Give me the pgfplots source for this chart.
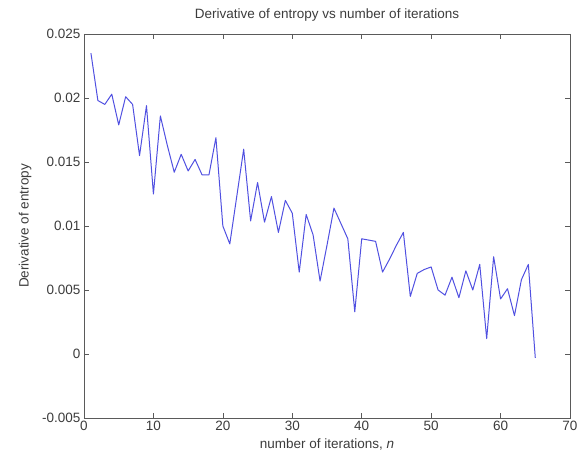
\documentclass[border=0pt]{standalone}
\usepackage{fontspec}
\setmainfont{Liberation Sans}
\usepackage{pgfplots}
\pgfplotsset{compat=1.18}
\definecolor{lineblue}{RGB}{80,80,225}
\definecolor{axgray}{RGB}{90,90,90}
\definecolor{txtgray}{RGB}{60,60,60}
\begin{document}
\begin{tikzpicture}[x=1pt,y=1pt]
\useasboundingbox (-84,-46) rectangle (501,418);
\begin{axis}[
  at={(0,0)}, anchor=south west,
  scale only axis, width=486pt, height=384pt,
  xmin=0, xmax=70, ymin=-0.005, ymax=0.025,
  xtick={0,10,...,70},
  ytick={-0.005,0,0.005,0.01,0.015,0.02,0.025},
  yticklabels={-0.005,0,0.005,0.01,0.015,0.02,0.025},
  xticklabels={0,10,20,30,40,50,60,70},
  scaled y ticks=false,
  tick align=inside,
  major tick length=5pt,
  tick style={axgray, line width=0.6pt},
  axis line style={axgray, line width=0.8pt},
  every tick label/.style={font=\fontsize{13.5}{15}\selectfont, text=txtgray},
  title={Derivative of entropy vs number of iterations},
  title style={font=\fontsize{13.5}{15}\selectfont, text=txtgray, yshift=3pt},
  xlabel={number of iterations, \textit{n}},
  ylabel={Derivative of entropy},
  label style={font=\fontsize{13.5}{15}\selectfont, text=txtgray},
  xlabel style={yshift=-1pt},
  ylabel style={yshift=4pt},
  clip=false,
]
\addplot[lineblue, line width=1pt, mark=none, line join=round] coordinates {
(1,0.0235) (2,0.0198) (3,0.0195) (4,0.0203) (5,0.0179) (6,0.0201) (7,0.0195) (8,0.0155) (9,0.0194) (10,0.0125)
(11,0.0186) (12,0.0163) (13,0.0142) (14,0.0156) (15,0.0143) (16,0.0152) (17,0.0140) (18,0.0140) (19,0.0169) (20,0.0100)
(21,0.0086) (22,0.0123) (23,0.0160) (24,0.0104) (25,0.0134) (26,0.0103) (27,0.0123) (28,0.0095) (29,0.0120) (30,0.0110)
(31,0.0064) (32,0.0109) (33,0.0093) (34,0.0057) (35,0.0085) (36,0.0114) (37,0.0102) (38,0.0090) (39,0.0033) (40,0.0090)
(41,0.0089) (42,0.0088) (43,0.0064) (44,0.0074) (45,0.0085) (46,0.0095) (47,0.0045) (48,0.0063) (49,0.0066) (50,0.0068)
(51,0.0050) (52,0.0046) (53,0.0060) (54,0.0044) (55,0.0065) (56,0.0050) (57,0.0070) (58,0.0012) (59,0.0076) (60,0.0043)
(61,0.0051) (62,0.0030) (63,0.0058) (64,0.0070) (65,-0.0003)
};
\end{axis}
\end{tikzpicture}
\end{document}
